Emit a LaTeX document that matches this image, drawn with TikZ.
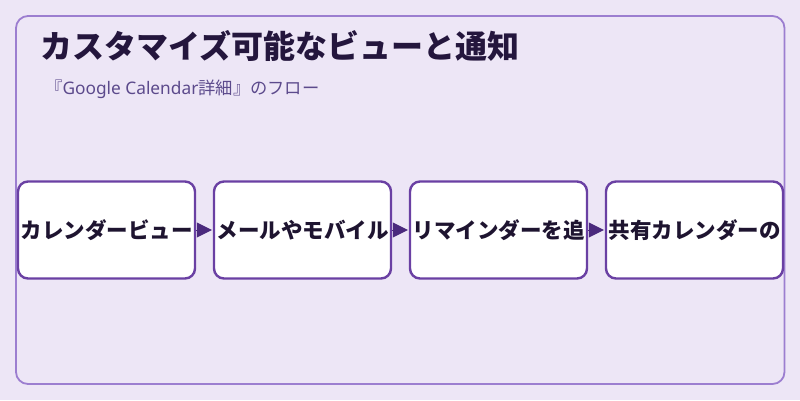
\documentclass[tikz,border=0pt]{standalone}
\usepackage{fontspec}
\setmainfont{Noto Sans CJK JP}
\newfontfamily\latinsub{Noto Sans}
\usetikzlibrary{arrows.meta}
\definecolor{bgc}{HTML}{EDE6F6}
\definecolor{framec}{HTML}{9C7ED0}
\definecolor{boxc}{HTML}{6A40A3}
\definecolor{arrc}{HTML}{4B2A7D}
\definecolor{titlec}{HTML}{24163D}
\definecolor{subc}{HTML}{5C4A8C}
\definecolor{txtc}{HTML}{1E1430}
\tikzset{
  stepbox/.style={draw=boxc, line width=2.4pt, fill=white, rounded corners=10pt,
    minimum width=177pt, minimum height=97pt, inner sep=0pt,
    font=\fontsize{21.5pt}{24pt}\selectfont\bfseries, text=txtc},
  flow/.style={draw=arrc, line width=0.4pt, -{Triangle[length=15pt,width=15pt]}, fill=arrc, shorten >=1pt}
}
\begin{document}
\begin{tikzpicture}[x=1pt,y=-1pt]
\useasboundingbox (0,0) rectangle (800,400);
\fill[bgc] (0,0) rectangle (800,400);
\draw[framec, line width=1.8pt, rounded corners=12pt] (16,16) rectangle (784.5,384);
\node[anchor=west, text=titlec, font=\fontsize{32pt}{36pt}\selectfont\bfseries, inner sep=0pt] (title) at (40,46) {カスタマイズ可能なビューと通知};
\node[anchor=west, text=subc, font=\fontsize{17.3pt}{20pt}\selectfont, inner sep=0pt] (sub) at (45,89) {『{\latinsub Google Calendar}詳細』のフロー};
\node[stepbox] (b1) at (106.5,230) {カレンダービュー};
\node[stepbox] (b2) at (302.5,230) {メールやモバイル};
\node[stepbox] (b3) at (498.5,230) {リマインダーを追};
\node[stepbox] (b4) at (694.5,230) {共有カレンダーの};
\draw[flow] (b1.east) -- (b2.west);
\draw[flow] (b2.east) -- (b3.west);
\draw[flow] (b3.east) -- (b4.west);
\end{tikzpicture}
\end{document}
